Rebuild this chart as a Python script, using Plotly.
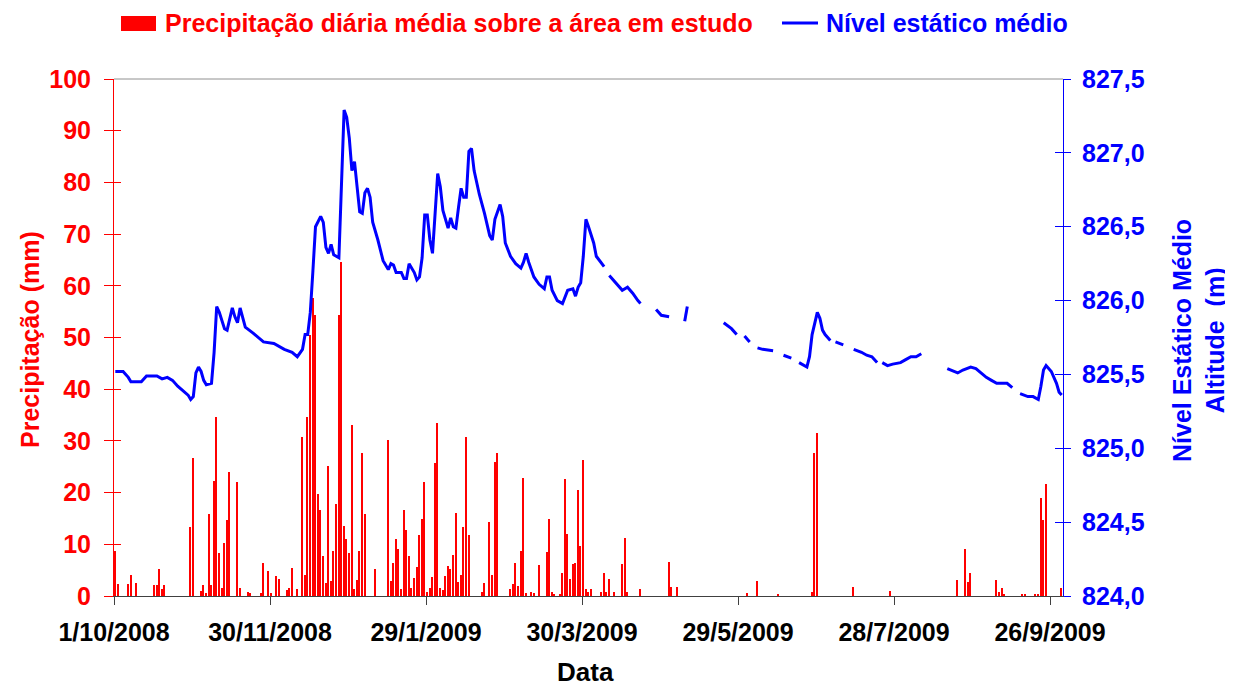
import pandas as pd
import plotly.graph_objects as go

# ---------------- data ----------------
start_date = "2008-10-01"
end_date = "2009-10-01"

# daily precipitation: day offset from 1/10/2008 and value (mm)
rain_day = [0, 1, 5, 6, 8, 15, 16, 17, 18, 19, 29, 30, 33, 34, 35, 36, 37, 38, 39, 40,
            41, 42, 43, 44, 47, 48, 51, 52, 56, 57, 59, 60, 62, 63, 66, 67, 68, 70, 72, 73,
            74, 75, 76, 77, 78, 79, 80, 81, 82, 83, 84, 85, 86, 87, 88, 89, 90, 91, 92, 93,
            94, 95, 96, 100, 105, 106, 107, 108, 109, 110, 111, 112, 113, 114, 115, 116, 117, 118, 119, 120,
            121, 122, 123, 124, 125, 126, 127, 128, 129, 130, 131, 132, 133, 134, 135, 136, 141, 142, 144, 145,
            146, 147, 152, 153, 154, 155, 156, 157, 158, 160, 161, 163, 166, 167, 168, 169, 171, 172, 173, 174,
            175, 176, 177, 178, 179, 180, 181, 182, 183, 187, 188, 189, 190, 192, 195, 196, 197, 202, 213, 214,
            216, 243, 247, 255, 268, 269, 270, 284, 298, 324, 327, 328, 329, 339, 340, 341, 342, 349, 350, 354,
            355, 356, 357, 358, 364]
rain_mm = [8.8, 2.3, 2.3, 4.1, 2.6, 2.1, 2.1, 5.2, 1.3, 2.1, 13.3, 26.7, 1.0, 2.1, 0.5, 15.9, 2.1, 22.3, 34.7, 8.3,
           1.5, 10.2, 14.7, 23.9, 22.1, 1.5, 0.7, 0.5, 0.5, 6.4, 4.8, 0.5, 3.9, 3.3, 1.2, 1.5, 5.5, 1.4, 30.8, 4.1,
           34.7, 50.5, 57.6, 54.4, 19.7, 16.6, 7.7, 2.6, 25.1, 2.9, 8.7, 17.8, 54.4, 64.7, 13.6, 11.0, 8.3, 33.1, 1.4, 3.1,
           8.7, 27.6, 15.9, 5.2, 30.2, 2.9, 6.3, 11.0, 9.0, 1.3, 16.6, 12.8, 7.7, 1.6, 3.5, 5.7, 11.8, 14.9, 22.1, 0.7,
           1.5, 3.6, 25.7, 33.4, 1.5, 1.1, 3.9, 5.9, 5.2, 7.9, 16.1, 2.8, 4.1, 13.3, 30.7, 11.8, 0.7, 2.6, 14.4, 4.1,
           25.9, 27.7, 1.3, 2.3, 6.4, 1.9, 8.8, 22.8, 0.5, 0.7, 0.6, 6.0, 8.6, 14.8, 0.7, 0.3, 0.3, 4.5, 22.6, 12.0,
           3.3, 6.2, 6.4, 20.5, 9.7, 26.4, 1.3, 0.7, 1.3, 0.7, 4.5, 0.8, 3.3, 0.8, 6.1, 11.3, 0.8, 1.3, 6.6, 1.8,
           1.8, 0.5, 2.9, 0.4, 0.8, 27.7, 31.5, 1.8, 1.0, 3.1, 9.0, 2.8, 4.4, 3.1, 0.7, 1.5, 0.4, 0.4, 0.4, 0.4,
           0.4, 19.0, 14.7, 21.6, 1.5]

# mean static level (m); None marks a gap in the record
level_day = [0, 3, 5, 6, 10, 12, 16, 18, 20, 22, 24, 26, 28, 29, 30, 31, 32, 33, 34, 35,
             37, 38, 39, 40, 42, 43, 44, 45, 46, 47, 48, 49, 50, 53, 55, 57, 61, 63, 65, 68,
             70, 72, 73, 74, 75, 76, 77, 79, 80, 81, 82, 83, 84, 86, 87, 88, 89, 90, 91, 92,
             93, 94, 95, 96, 97, 98, 99, 101, 103, 105, 106, 107, 108, 110, 111, 112, 113, 115, 116, 117,
             118, 119, 120, 121, 122, 123, 124, 125, 126, 128, 129, 130, 131, 132, 133, 134, 135, 136, 137, 138,
             140, 142, 144, 145, 146, 148, 149, 150, 152, 154, 156, 157, 158, 159, 161, 163, 165, 166, 167, 168,
             170, 172, 174, 176, 177, 178, 179, 180, 181, 182, 184, 185, 188, 189, 190, 192, 194, 195, 197, 199,
             201, 202, 205, 208, 210, 213, 216, 219, 220, 228, 234, 236, 237, 239, 240, 242, 244, 245, 247, 249,
             253, 255, 257, 260, 261, 263, 266, 267, 268, 270, 271, 272, 273, 274, 275, 276, 277, 280, 282, 284,
             287, 289, 291, 293, 294, 295, 297, 299, 302, 304, 306, 308, 310, 315, 320, 324, 326, 329, 331, 333,
             335, 337, 339, 343, 345, 346, 348, 351, 353, 355, 356, 357, 358, 360, 362, 363, 364]
level_m = [825.52, 825.52, 825.48, 825.45, 825.45, 825.49, 825.49, 825.47, 825.48, 825.46, 825.42, 825.39, 825.36, 825.33, 825.35, 825.51, 825.55, 825.52, 825.46, 825.43,
           825.44, 825.65, 825.96, 825.92, 825.81, 825.80, 825.88, 825.95, 825.89, 825.85, 825.95, 825.89, 825.82, 825.78, 825.75, 825.72, 825.71, 825.69, 825.67, 825.65,
           825.62, 825.67, 825.77, 825.77, 825.92, 826.20, 826.50, 826.57, 826.53, 826.36, 826.32, 826.38, 826.31, 826.29, 826.75, 827.29, 827.24, 827.10, 826.88, 826.94,
           826.77, 826.60, 826.59, 826.73, 826.76, 826.70, 826.53, 826.41, 826.27, 826.21, 826.25, 826.24, 826.19, 826.19, 826.15, 826.15, 826.25, 826.19, 826.14, 826.16,
           826.29, 826.58, 826.58, 826.41, 826.32, 826.60, 826.86, 826.77, 826.61, 826.49, 826.56, 826.50, 826.49, 826.63, 826.76, 826.70, 826.70, 827.01, 827.03, 826.88,
           826.72, 826.59, 826.44, 826.41, 826.55, 826.65, 826.57, 826.39, 826.30, 826.25, 826.22, 826.26, 826.32, 826.26, 826.16, 826.11, 826.08, 826.16, 826.16, 826.07,
           826.00, 825.98, 826.07, 826.08, 826.03, 826.09, 826.12, 826.30, 826.55, 826.50, 826.39, 826.30, 826.23, None, 826.17, 826.13, 826.09, 826.07, 826.09, 826.05,
           826.00, 825.98, None, 825.94, 825.90, 825.89, None, 825.86, 825.96, None, 825.85, 825.82, 825.81, 825.77, None, 825.76, 825.72, None, 825.68, 825.67,
           825.66, None, 825.63, 825.61, None, 825.58, 825.55, 825.62, 825.77, 825.92, 825.88, 825.80, 825.77, 825.75, 825.73, None, 825.72, 825.70, None, 825.67,
           825.65, 825.63, 825.62, 825.58, None, 825.58, 825.56, 825.57, 825.58, 825.60, 825.62, 825.62, 825.64, None, 825.54, 825.51, 825.53, 825.55, 825.54, 825.51,
           825.48, 825.46, 825.44, 825.44, 825.41, None, 825.37, 825.35, 825.35, 825.33, 825.42, 825.53, 825.56, 825.52, 825.44, 825.38, 825.36]

tick_dates = ["2008-10-01", "2008-11-30", "2009-01-29", "2009-03-30", "2009-05-29", "2009-07-28", "2009-09-26"]
tick_labels = ["1/10/2008", "30/11/2008", "29/1/2009", "30/3/2009", "29/5/2009", "28/7/2009", "26/9/2009"]
precip_ticks = [0, 10, 20, 30, 40, 50, 60, 70, 80, 90, 100]
level_ticks = [824.0, 824.5, 825.0, 825.5, 826.0, 826.5, 827.0, 827.5]

rain_name = "Precipitação diária média sobre a área em estudo"
level_name = "Nível estático médio"

# ---------------- figure ----------------
RED = "#FF0000"
BLUE = "#0000FF"
FONT = "Liberation Sans, Arial, sans-serif"

# the page places the figure 8 px in from the window's top-left corner
OFF = 8
W, H = 1233 - OFF, 687 - OFF
L, R, T, B = 114 - OFF, 1233 - 1063, 79 - OFF, 687 - 596
PW, PH = W - L - R, H - T - B


def px(xp):
    """window x pixel -> paper x"""
    return (xp - OFF - L) / PW


def py(yp):
    """window y pixel -> paper y"""
    return (H - B - (yp - OFF)) / PH


t0 = pd.Timestamp(start_date)
rain_x = [t0 + pd.Timedelta(days=d, hours=12) for d in rain_day]
level_x = [t0 + pd.Timedelta(days=d, hours=12) for d in level_day]

fig = go.Figure()
fig.add_trace(go.Bar(
    x=rain_x, y=rain_mm, name=rain_name,
    marker=dict(color=RED, line=dict(width=0)),
    width=0.55 * 86400000, yaxis="y", showlegend=False,
))
fig.add_trace(go.Scatter(
    x=level_x, y=level_m, name=level_name, mode="lines",
    line=dict(color=BLUE, width=3), connectgaps=False,
    yaxis="y2", showlegend=False,
))
# helper traces that carry the inner half of the crossing tick marks
fig.add_trace(go.Scatter(x=[None], y=[None], yaxis="y3", showlegend=False, hoverinfo="skip"))
fig.add_trace(go.Scatter(x=[None], y=[None], yaxis="y4", showlegend=False, hoverinfo="skip"))

tickfont = dict(family=FONT, size=25, weight="bold")

fig.update_layout(
    width=W, height=H,
    margin=dict(l=L, r=R, t=T, b=B, autoexpand=False),
    paper_bgcolor="white", plot_bgcolor="white",
    separators=",.",
    font=dict(family=FONT, size=25, weight="bold"),
    bargap=0,
    xaxis=dict(
        type="date", range=[start_date, end_date],
        tickmode="array", tickvals=tick_dates, ticktext=tick_labels,
        ticks="outside", ticklen=8, tickwidth=1, tickcolor="#404040",
        showline=True, linecolor="#404040", linewidth=1,
        showgrid=False, zeroline=False,
        tickfont=dict(tickfont, color="black"),
        ticklabelstandoff=6,
    ),
    yaxis=dict(
        range=[0, 100], tickmode="array", tickvals=precip_ticks,
        ticks="outside", ticklen=9, tickwidth=1, tickcolor=RED,
        showline=True, linecolor=RED, linewidth=1,
        showgrid=False, zeroline=False,
        tickfont=dict(tickfont, color=RED),
        ticklabelstandoff=8,
    ),
    yaxis3=dict(
        overlaying="y", anchor="x", side="left",
        range=[0, 100], tickmode="array", tickvals=precip_ticks,
        ticks="inside", ticklen=7, tickwidth=1, tickcolor=RED,
        showticklabels=False, showline=False, showgrid=False, zeroline=False,
    ),
    yaxis2=dict(
        overlaying="y", anchor="x", side="right",
        range=[824.0, 827.5], tickmode="array", tickvals=level_ticks,
        tickformat=".1f",
        ticks="outside", ticklen=7, tickwidth=1, tickcolor=BLUE,
        showline=True, linecolor=BLUE, linewidth=1,
        showgrid=False, zeroline=False,
        tickfont=dict(tickfont, color=BLUE),
        ticklabelstandoff=6,
    ),
    yaxis4=dict(
        overlaying="y", anchor="x", side="right",
        range=[824.0, 827.5], tickmode="array", tickvals=level_ticks,
        ticks="inside", ticklen=8, tickwidth=1, tickcolor=BLUE,
        showticklabels=False, showline=False, showgrid=False, zeroline=False,
    ),
)

# plot-area top border
fig.add_shape(type="line", xref="paper", yref="paper", x0=0, x1=1, y0=1, y1=1,
              line=dict(color="#909090", width=1))

# legend (drawn manually to match the original layout)
fig.add_shape(type="rect", xref="paper", yref="paper",
              x0=px(121), x1=px(156), y0=py(31), y1=py(16),
              fillcolor=RED, line=dict(width=0))
fig.add_annotation(xref="paper", yref="paper", x=px(163), y=py(23),
                   xanchor="left", yanchor="middle", showarrow=False,
                   text=rain_name, font=dict(family=FONT, size=25, weight="bold", color=RED))
fig.add_shape(type="line", xref="paper", yref="paper",
              x0=px(782), x1=px(818), y0=py(23), y1=py(23),
              line=dict(color=BLUE, width=3))
fig.add_annotation(xref="paper", yref="paper", x=px(824), y=py(23),
                   xanchor="left", yanchor="middle", showarrow=False,
                   text=level_name, font=dict(family=FONT, size=25, weight="bold", color=BLUE))

# axis titles
fig.add_annotation(xref="paper", yref="paper", x=px(30), y=py(340),
                   xanchor="center", yanchor="middle", showarrow=False, textangle=-90,
                   text="Precipitação (mm)", font=dict(family=FONT, size=25, weight="bold", color=RED))
fig.add_annotation(xref="paper", yref="paper", x=px(1198), y=py(341),
                   xanchor="center", yanchor="middle", showarrow=False, textangle=-90,
                   text="Nível Estático Médio<br>Altitude  (m)",
                   font=dict(family=FONT, size=25, weight="bold", color=BLUE))
fig.add_annotation(xref="paper", yref="paper", x=px(585), y=py(672),
                   xanchor="center", yanchor="middle", showarrow=False,
                   text="Data", font=dict(family=FONT, size=26, weight="bold", color="black"))

fig.write_html("out.html")
